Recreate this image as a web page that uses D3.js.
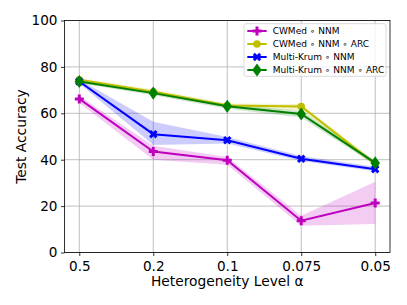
<!DOCTYPE html>
<html>
<head>
<meta charset="utf-8">
<script src="https://cdn.jsdelivr.net/npm/d3@7"></script>
<style>
  body { margin: 0; background: #fff; }
  svg { font-family: "DejaVu Sans", sans-serif; }
</style>
</head>
<body>
<svg class="chart"></svg>
<script>
const levels = ["0.5", "0.2", "0.1", "0.075", "0.05"];
const yTicks = [0, 20, 40, 60, 80, 100];

const cwmedNnm = [66.2, 43.5, 39.8, 13.7, 21.3];
const cwmedNnmLo = [64.5, 40.0, 37.8, 11.5, 12.3];
const cwmedNnmHi = [67.5, 46.0, 41.2, 15.8, 30.5];

const cwmedArc = [74.5, 69.3, 63.4, 62.9, 38.2];
const cwmedArcLo = [73.8, 68.3, 62.6, 61.2, 37.2];
const cwmedArcHi = [75.2, 70.3, 64.2, 64.0, 39.4];

const krumNnm = [73.7, 51.0, 48.4, 40.4, 35.9];
const krumNnmLo = [72.8, 46.3, 47.0, 39.4, 35.0];
const krumNnmHi = [74.6, 56.4, 49.8, 41.6, 37.0];

const krumArc = [73.7, 68.7, 63.0, 59.7, 38.6];
const krumArcLo = [72.9, 67.8, 62.0, 58.2, 37.6];
const krumArcHi = [74.5, 69.6, 64.0, 61.0, 39.6];

const series = [
  { name: "CWMed \u2218 NNM", color: "#bf00bf", mean: cwmedNnm, lo: cwmedNnmLo, hi: cwmedNnmHi, marker: "plus" },
  { name: "CWMed \u2218 NNM \u2218 ARC", color: "#bfbf00", mean: cwmedArc, lo: cwmedArcLo, hi: cwmedArcHi, marker: "circle" },
  { name: "Multi-Krum \u2218 NNM", color: "#0000ff", mean: krumNnm, lo: krumNnmLo, hi: krumNnmHi, marker: "x" },
  { name: "Multi-Krum \u2218 NNM \u2218 ARC", color: "#008000", mean: krumArc, lo: krumArcLo, hi: krumArcHi, marker: "diamond" }
];

const width = 407, height = 305;
const margin = { top: 20.5, right: 17, bottom: 52.5, left: 64.5 };

const svg = d3.select(".chart").attr("width", width).attr("height", height);

const x = d3.scaleLinear()
    .domain([-0.2, levels.length - 1 + 0.2])
    .range([margin.left, width - margin.right]);
const y = d3.scaleLinear()
    .domain([0, 100])
    .range([height - margin.bottom, margin.top]);

// grid
const grid = svg.append("g").attr("stroke", "#b0b0b0").attr("stroke-width", 0.8);
grid.selectAll("line.v").data(levels).enter().append("line")
    .attr("x1", (d, i) => x(i)).attr("x2", (d, i) => x(i))
    .attr("y1", y(0)).attr("y2", y(100));
grid.selectAll("line.h").data(yTicks).enter().append("line")
    .attr("x1", x.range()[0]).attr("x2", x.range()[1])
    .attr("y1", d => y(d)).attr("y2", d => y(d));

// bands
const area = d3.area()
    .x((d, i) => x(i))
    .y0(d => y(d[0]))
    .y1(d => y(d[1]));

series.forEach(s => {
    svg.append("path")
        .datum(s.lo.map((v, i) => [v, s.hi[i]]))
        .attr("d", area)
        .attr("fill", s.color)
        .attr("fill-opacity", 0.2);
});

const line = d3.line().x((d, i) => x(i)).y(d => y(d));

function markerPath(type) {
    if (type === "plus") return d3.symbol(d3.symbolCross, 45)();
    if (type === "circle") return d3.symbol(d3.symbolCircle, 45)();
    if (type === "x") return d3.symbol(d3.symbolCross, 45)();
    return d3.symbol(d3.symbolDiamond, 50)();
}
function markerTransform(type, cx, cy) {
    if (type === "x") return `translate(${cx},${cy}) rotate(45)`;
    if (type === "diamond") return `translate(${cx},${cy}) scale(1.25,1)`;
    return `translate(${cx},${cy})`;
}

series.forEach(s => {
    svg.append("path")
        .datum(s.mean)
        .attr("d", line)
        .attr("fill", "none")
        .attr("stroke", s.color)
        .attr("stroke-width", 2);
    svg.append("g").selectAll("path")
        .data(s.mean)
        .enter()
        .append("path")
        .attr("d", markerPath(s.marker))
        .attr("transform", (d, i) => markerTransform(s.marker, x(i), y(d)))
        .attr("fill", s.color);
});

// axes
const xAxis = d3.axisBottom(x)
    .tickValues(d3.range(levels.length))
    .tickFormat(i => levels[i])
    .tickSize(3.5).tickPadding(3.5);
const gx = svg.append("g")
    .attr("transform", `translate(0,${y(0)})`)
    .call(xAxis);

const yAxis = d3.axisLeft(y).tickValues(yTicks).tickSize(3.5).tickPadding(3.5);
const gy = svg.append("g")
    .attr("transform", `translate(${x.range()[0]},0)`)
    .call(yAxis);

[gx, gy].forEach(g => {
    g.select(".domain").remove();
    g.selectAll("text").attr("font-size", "13.6px").attr("fill", "#000").style("font-family", "DejaVu Sans, sans-serif");
    g.selectAll("line").attr("stroke", "#000").attr("stroke-width", 0.8);
});
gx.selectAll("text").attr("dy", null).attr("y", 18.5);

// frame
svg.append("rect")
    .attr("x", x.range()[0]).attr("y", y(100))
    .attr("width", x.range()[1] - x.range()[0])
    .attr("height", y(0) - y(100))
    .attr("fill", "none").attr("stroke", "#000").attr("stroke-width", 0.8);

// labels
svg.append("text")
    .attr("x", (x.range()[0] + x.range()[1]) / 2)
    .attr("y", 286)
    .attr("text-anchor", "middle")
    .attr("font-size", "13.8px")
    .text("Heterogeneity Level \u03b1");

svg.append("text")
    .attr("transform", `translate(25.5,${(y(0) + y(100)) / 2}) rotate(-90)`)
    .attr("text-anchor", "middle")
    .attr("font-size", "13.8px")
    .text("Test Accuracy");

// legend
const legend = svg.append("g").attr("transform", "translate(244,23.7)");
legend.append("rect")
    .attr("width", 142).attr("height", 52.6)
    .attr("rx", 2)
    .attr("fill", "#fff").attr("fill-opacity", 0.8)
    .attr("stroke", "#d0d0d0").attr("stroke-width", 0.8);

series.forEach((s, i) => {
    const ly = 7.3 + i * 13;
    const row = legend.append("g");
    row.append("line")
        .attr("x1", 3.3).attr("x2", 22.7)
        .attr("y1", ly).attr("y2", ly)
        .attr("stroke", s.color).attr("stroke-width", 2);
    row.append("path")
        .attr("d", markerPath(s.marker))
        .attr("transform", markerTransform(s.marker, 13, ly))
        .attr("fill", s.color);
    row.append("text")
        .attr("x", 28.7).attr("y", ly)
        .attr("dy", "0.35em")
        .attr("font-size", "9px")
        .text(s.name);
});
</script>
</body>
</html>
